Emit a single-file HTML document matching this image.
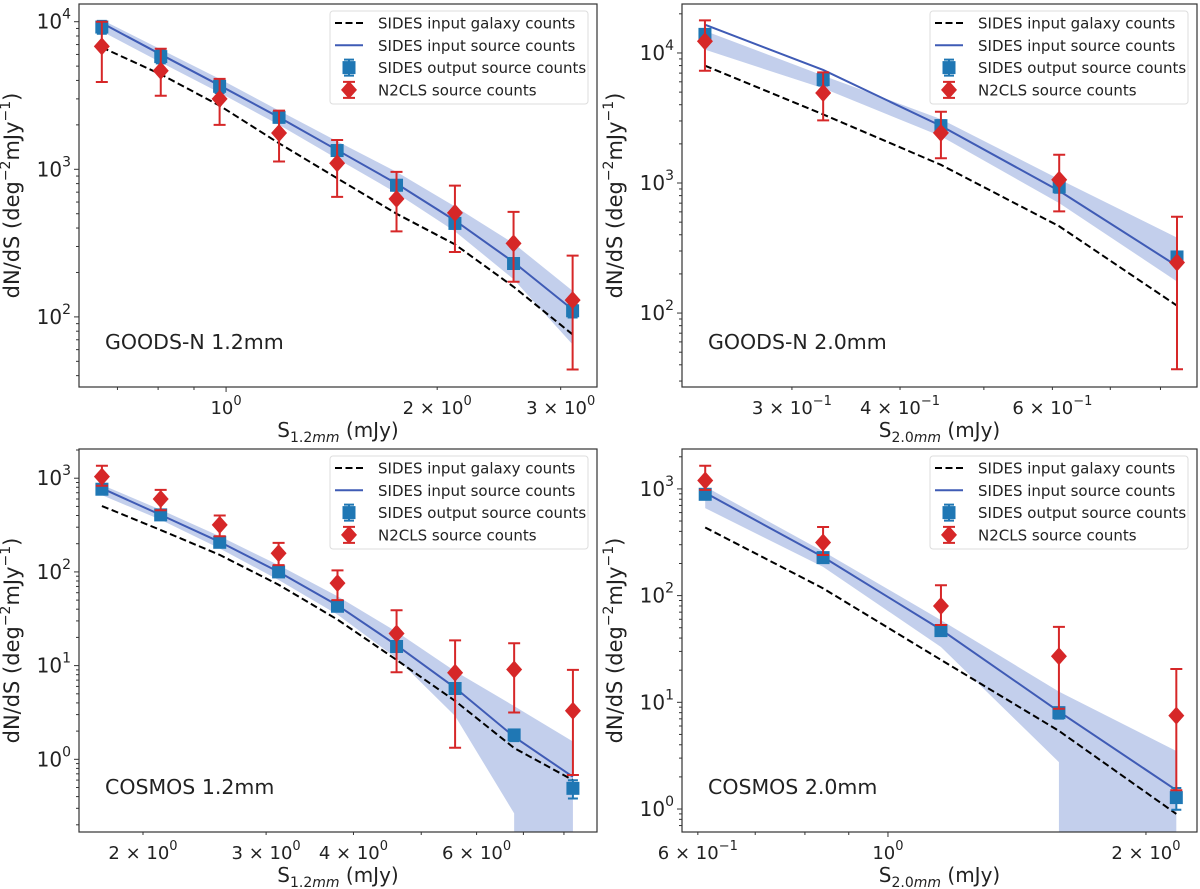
<!DOCTYPE html>
<html><head><meta charset="utf-8"><style>
html,body{margin:0;padding:0;background:#fff}
svg{display:block;font-family:"DejaVu Sans","Liberation Sans",sans-serif}
</style></head><body>
<svg id="fig" width="1200" height="889" viewBox="0 0 1200 889" xmlns="http://www.w3.org/2000/svg"></svg>
<script>
// ---- Panel 1: GOODS-N 1.2mm ----
const p1X = [0.665,0.807,0.979,1.19,1.44,1.75,2.12,2.57,3.12];
const p1Gal = [6700,4400,2700,1500,870,500,310,160,76];
const p1Line = [9800,6000,3700,2250,1350,800,450,235,112];
const p1BandHi = [10300,6500,4100,2500,1550,960,560,315,150];
const p1BandLo = [8600,5300,3300,2000,1180,690,380,180,65];
const p1Sq = [9200,5800,3650,2250,1340,780,430,230,110];
const p1SqErr = [0.1,0.1,0.1,0.08,0.08,0.08,0.08,0.08,0.1];
const p1Red = [6800,4650,3000,1760,1100,630,507,315,130];
const p1RedHi = [10000,6560,4100,2500,1580,960,775,515,260];
const p1RedLo = [3900,3150,2000,1130,650,380,275,173,44];
// ---- Panel 2: GOODS-N 2.0mm ----
const p2X = [0.238,0.326,0.446,0.611,0.836];
const p2Gal = [7990,3370,1380,465,114];
const p2Line = [16500,7400,2750,870,230];
const p2BandHi = [14800,6700,3100,1070,380];
const p2BandLo = [10600,5350,2290,700,175];
const p2Sq = [13900,6240,2760,935,270];
const p2SqErr = [0.08,0.1,0.1,0.1,0.1];
const p2Red = [12300,4920,2430,1060,245];
const p2RedHi = [17800,7100,3530,1650,550];
const p2RedLo = [7300,3030,1550,605,37];
// ---- Panel 3: COSMOS 1.2mm ----
const p3X = [1.747,2.12,2.575,3.126,3.795,4.61,5.59,6.79,8.24];
const p3Gal = [505,280,152,73,31,11.5,4.2,1.32,0.6];
const p3Line = [780,406,209,100,44,16.5,5.8,1.74,0.65];
const p3BandHi = [850,460,240,118,55,23,8.7,3.7,1.55];
const p3BandLo = [660,360,178,82,35,12,2.9,0.265,null];
const p3Sq = [763,406,207,100,43,16,5.7,1.82,0.49];
const p3SqErr = [0.08,0.08,0.1,0.1,0.12,0.12,0.12,0.14,0.22];
const p3Red = [1040,600,318,158,76,22,8.4,9.1,3.3];
const p3RedHi = [1360,750,400,204,104,39,18.6,17.3,9.0];
const p3RedLo = [830,455,240,118,50,8.5,1.33,3.16,0.68];
// ---- Panel 4: COSMOS 2.0mm ----
const p4X = [0.612,0.84,1.153,1.583,2.17];
const p4Gal = [435,117,25,5.4,0.9];
const p4Line = [920,230,48,8.2,1.5];
const p4BandHi = [1050,260,59,12.6,3.5];
const p4BandLo = [660,186,33,2.75,null];
const p4Sq = [890,227,47,8,1.28];
const p4SqErr = [0.08,0.1,0.1,0.12,0.23];
const p4Red = [1200,315,80,27,7.5];
const p4RedHi = [1650,440,125,51,20.5];
const p4RedLo = [980,240,53,8.7,1.5];

const panels = [
 {id:'p1', f:[79,4,597,387], xd:[0.617,3.38], yd:[33.5,13180], label:'GOODS-N 1.2mm', xsub:'1.2mm',
  yMaj:[2,3,4], xTicks:[[1,'10','0'],[2,'2 × 10','0'],[3,'3 × 10','0']],
  X:p1X,G:p1Gal,L:p1Line,BH:p1BandHi,BL:p1BandLo,S:p1Sq,SE:p1SqErr,R:p1Red,RH:p1RedHi,RL:p1RedLo},
 {id:'p2', f:[682,4,1197,387], xd:[0.2239,0.8817], yd:[27,23800], label:'GOODS-N 2.0mm', xsub:'2.0mm',
  yMaj:[2,3,4], xTicks:[[0.3,'3 × 10','−1'],[0.4,'4 × 10','−1'],[0.6,'6 × 10','−1']],
  X:p2X,G:p2Gal,L:p2Line,BH:p2BandHi,BL:p2BandLo,S:p2Sq,SE:p2SqErr,R:p2Red,RH:p2RedHi,RL:p2RedLo},
 {id:'p3', f:[79,449,597,832], xd:[1.62,8.92], yd:[0.1676,2050], label:'COSMOS 1.2mm', xsub:'1.2mm',
  yMaj:[0,1,2,3], xTicks:[[2,'2 × 10','0'],[3,'3 × 10','0'],[4,'4 × 10','0'],[6,'6 × 10','0']],
  X:p3X,G:p3Gal,L:p3Line,BH:p3BandHi,BL:p3BandLo,S:p3Sq,SE:p3SqErr,R:p3Red,RH:p3RedHi,RL:p3RedLo},
 {id:'p4', f:[682,449,1197,832], xd:[0.575,2.294], yd:[0.609,2366], label:'COSMOS 2.0mm', xsub:'2.0mm',
  yMaj:[0,1,2,3], xTicks:[[0.6,'6 × 10','−1'],[1,'10','0'],[2,'2 × 10','0']],
  X:p4X,G:p4Gal,L:p4Line,BH:p4BandHi,BL:p4BandLo,S:p4Sq,SE:p4SqErr,R:p4Red,RH:p4RedHi,RL:p4RedLo}
];

const NS='http://www.w3.org/2000/svg';
const svg=document.getElementById('fig');
function mk(tag,attrs,parent){const e=document.createElementNS(NS,tag);for(const k in attrs)e.setAttribute(k,attrs[k]);(parent||svg).appendChild(e);return e;}
const RED='#d62728', SQ='#1f77b4', LINE='#3f5bb5', BAND='#c3cfec';

panels.forEach(P=>{
  const [x0,y0,x1,y1]=P.f;
  const lx0=Math.log10(P.xd[0]), lx1=Math.log10(P.xd[1]);
  const ly0=Math.log10(P.yd[0]), ly1=Math.log10(P.yd[1]);
  const sx=v=>x0+(Math.log10(v)-lx0)/(lx1-lx0)*(x1-x0);
  const sy=v=>y1-(Math.log10(v)-ly0)/(ly1-ly0)*(y1-y0);
  const g=mk('g',{});
  
  
  const clipId='clip-'+P.id;
  const cp=mk('clipPath',{id:clipId},g); mk('rect',{x:x0,y:y0,width:x1-x0,height:y1-y0},cp);
  const plot=mk('g',{'clip-path':'url(#'+clipId+')'},g);
  
  
  let top=P.X.map((x,i)=>[sx(x),sy(P.BH[i])]);
  let bot=[];
  for(let i=0;i<P.X.length;i++){
    if(P.BL[i]==null){ bot.push([sx(P.X[i-1]),y1+5]); bot.push([sx(P.X[i]),y1+5]); }
    else bot.push([sx(P.X[i]),sy(P.BL[i])]);
  }
  const pts=top.concat(bot.reverse()).map(p=>p.join(',')).join(' ');
  const band=mk('polygon',{points:pts,fill:BAND,stroke:'none'},plot);
  
  
  const gal=mk('polyline',{points:P.X.map((x,i)=>sx(x)+','+sy(P.G[i])).join(' '),fill:'none',stroke:'#000','stroke-width':2,'stroke-dasharray':'7,3.5'},plot);
  
  
  const ln=mk('polyline',{points:P.X.map((x,i)=>sx(x)+','+sy(P.L[i])).join(' '),fill:'none',stroke:LINE,'stroke-width':2},plot);
  
  
  P.X.forEach((x,i)=>{
    const cx=sx(x), v=P.S[i];
    const e=mk('path',{d:`M${cx},${sy(v*(1+P.SE[i]))}V${sy(v*(1-P.SE[i]))}M${cx-5},${sy(v*(1+P.SE[i]))}H${cx+5}M${cx-5},${sy(v*(1-P.SE[i]))}H${cx+5}`,stroke:SQ,'stroke-width':2,fill:'none'},plot);
    
    
    const r=mk('rect',{x:cx-6.5,y:sy(v)-6.5,width:13,height:13,fill:SQ},plot);
    
    
  });
  P.X.forEach((x,i)=>{
    const cx=sx(x), cy=sy(P.R[i]), yh=sy(P.RH[i]), yl=sy(P.RL[i]);
    const e=mk('path',{d:`M${cx},${yh}V${yl}M${cx-6},${yh}H${cx+6}M${cx-6},${yl}H${cx+6}`,stroke:RED,'stroke-width':2,fill:'none'},plot);
    
    
    const d=mk('polygon',{points:`${cx},${cy-9} ${cx+8},${cy} ${cx},${cy+9} ${cx-8},${cy}`,fill:RED},plot);
    
    
  });
  const fr=mk('rect',{x:x0,y:y0,width:x1-x0,height:y1-y0,fill:'none',stroke:'#333','stroke-width':1.2},g);
  
  
  for(let d=Math.floor(ly0);d<=Math.ceil(ly1);d++){
    for(let m=1;m<10;m++){
      const v=m*Math.pow(10,d); const lv=Math.log10(v);
      if(lv<ly0||lv>ly1) continue;
      const y=sy(v); const len=m==1?5:3;
      mk('line',{x1:x0-len,x2:x0,y1:y,y2:y,stroke:'#333','stroke-width':1},g);
    }
  }
  P.yMaj.forEach(d=>{
    const t=mk('text',{x:x0-8,y:sy(Math.pow(10,d))+7,'text-anchor':'end','font-size':20,fill:'#222'},g);
    
    
    t.innerHTML=`10<tspan dy="-10" font-size="14">${d}</tspan>`;
  });
  for(let d=Math.floor(lx0);d<=Math.ceil(lx1);d++){
    for(let m=1;m<10;m++){
      const v=m*Math.pow(10,d); const lv=Math.log10(v);
      if(lv<lx0||lv>lx1) continue;
      const x=sx(v); const len=m==1?5:3;
      mk('line',{x1:x,x2:x,y1:y1,y2:y1+len,stroke:'#333','stroke-width':1},g);
    }
  }
  P.xTicks.forEach(tk=>{
    const t=mk('text',{x:sx(tk[0]),y:y1+27,'text-anchor':'middle','font-size':18,fill:'#222'},g);
    
    
    t.innerHTML=`${tk[1]}<tspan dy="-9" font-size="13">${tk[2]}</tspan>`;
  });
  const xl=mk('text',{x:(x0+x1)/2,y:y1+50,'text-anchor':'middle','font-size':20,fill:'#222'},g);
  
  
  xl.innerHTML=`S<tspan dy="5" font-size="14">${P.xsub.replace('mm','')}</tspan><tspan font-size="14" font-style="italic">mm</tspan><tspan dy="-5"> (mJy)</tspan>`;
  const ycx=x0-60, ycy=(y0+y1)/2;
  const yl=mk('text',{x:ycx,y:ycy,'text-anchor':'middle','font-size':21,fill:'#222',transform:`rotate(-90 ${ycx} ${ycy})`},g);
  
  
  yl.innerHTML=`dN/dS (deg<tspan dy="-9" font-size="14">−2</tspan><tspan dy="9">mJy</tspan><tspan dy="-9" font-size="14">−1</tspan><tspan dy="9">)</tspan>`;
  const pl=mk('text',{x:x0+26,y:y1-38,'font-size':20.5,fill:'#222'},g);
  
  
  pl.textContent=P.label;
  const L=mk('g',{},g);
  
  
  const lx=x1-267, ly=y0+7;
  mk('rect',{x:lx,y:ly,width:258,height:93,rx:3,fill:'#fff','fill-opacity':0.85,stroke:'#ddd','stroke-width':1},L);
  const items=['SIDES input galaxy counts','SIDES input source counts','SIDES output source counts','N2CLS source counts'];
  items.forEach((s,i)=>{
    const yy=ly+12+i*22.3, hx=lx+5, hc=lx+19;
    if(i==0) mk('line',{x1:hx,x2:hx+28,y1:yy,y2:yy,stroke:'#000','stroke-width':2,'stroke-dasharray':'7,3.5'},L);
    if(i==1) mk('line',{x1:hx,x2:hx+28,y1:yy,y2:yy,stroke:LINE,'stroke-width':2},L);
    if(i==2){ mk('path',{d:`M${hc},${yy-8}V${yy+8}M${hc-5},${yy-8}H${hc+5}M${hc-5},${yy+8}H${hc+5}`,stroke:SQ,'stroke-width':2},L); mk('rect',{x:hc-6.5,y:yy-6.5,width:13,height:13,fill:SQ},L); }
    if(i==3){ mk('path',{d:`M${hc},${yy-8}V${yy+8}M${hc-6},${yy-8}H${hc+6}M${hc-6},${yy+8}H${hc+6}`,stroke:RED,'stroke-width':2},L); mk('polygon',{points:`${hc},${yy-9} ${hc+8},${yy} ${hc},${yy+9} ${hc-8},${yy}`,fill:RED},L); }
    const t=mk('text',{x:lx+48,y:yy+5.5,'font-size':15,fill:'#222'},L);
    
    
    t.textContent=s;
  });
});
</script>
</body></html>
